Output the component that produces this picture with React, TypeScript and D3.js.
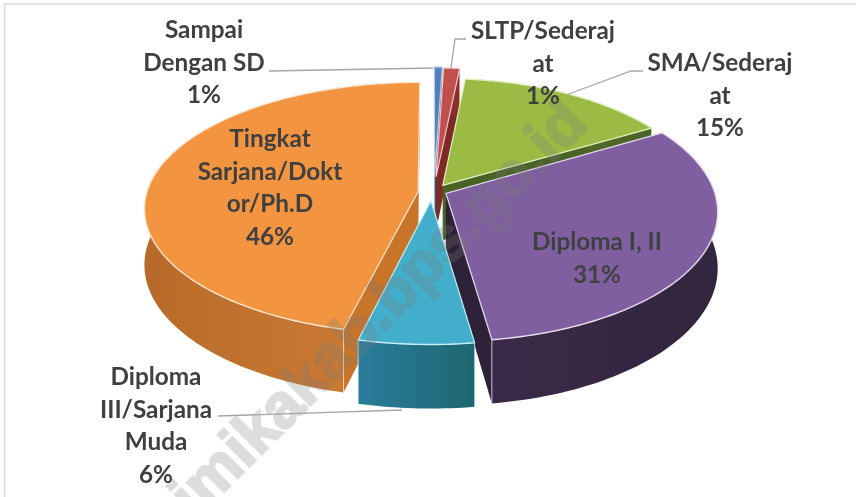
import React from "react";
import * as d3 from "d3";

const categories = ["Sampai Dengan SD", "SLTP/Sederajat", "SMA/Sederajat", "Diploma I, II", "Diploma III/Sarjana Muda", "Tingkat Sarjana/Doktor/Ph.D"];
const values = [0.55, 1.1, 14.9, 31.2, 6.0, 46.25];
const labelLines = [
  ["Sampai", "Dengan SD"],
  ["SLTP/Sederaj", "at"],
  ["SMA/Sederaj", "at"],
  ["Diploma I, II"],
  ["Diploma", "III/Sarjana", "Muda"],
  ["Tingkat", "Sarjana/Dokt", "or/Ph.D"],
];
const explosion = [0.115, 0.105, 0.075, 0.062, 0.085, 0.052];
const rxScale = [1, 1, 0.97, 1, 1, 1.01];
const ryScale = [1, 1, 0.96, 1, 0.96, 0.97];
const uNudge = [0.008, 0.008, 0, -0.004, 0, 0];
const vNudge = [0, 0, 0.027, 0, 0, 0.018];
const topColors = ["#4F81BD", "#C0504D", "#9BBB45", "#7F5FA0", "#43AECB", "#F29440"];
const wallA = ["#2f5585", "#8a2f2c", "#5f7a2a", "#3a2a47", "#2a7d9c", "#b86a2a"];
const wallB = ["#2f5585", "#8a2f2c", "#4a6326", "#33263f", "#1f6670", "#d07f35"];
const faceColors = ["#2f5585", "#7e2a28", "#4a6326", "#2e2139", "#1f6670", "#c8752c"];
const edgeColors = ["#bcd0ea", "#f5c9c7", "#e3f0c0", "#e6dbf0", "#c8eef6", "#fbe6cf"];
const labelPos = [
  { x: 204, y: 38 }, { x: 543, y: 39 }, { x: 720, y: 71 },
  { x: 597, y: 250 }, { x: 156, y: 385 }, { x: 270, y: 147 },
];
const leaders = [
  [[269, 71], [433, 68]],
  [[466, 39], [455, 39], [451, 68]],
  [[643, 71], [631, 71], [566, 95]],
  [],
  [[218, 416], [402, 410]],
  [],
];

const CX = 432, CY = 190, RX = 268, RY = 127, P = 0.135, H = 55;

function project(u: number, v: number, z: number): [number, number] {
  const s = 1 / (1 - P * v);
  return [CX + RX * u * s, CY + (RY * v + z) * s];
}

const pieGen = d3.pie<number>().sort(null).startAngle(0).endAngle(2 * Math.PI);
const arcs = pieGen(values);
const pathOf = (pts: [number, number][]) => d3.line<[number, number]>()(pts) + "Z";

function sliceGeometry(i: number) {
  const a = arcs[i];
  const mid = (a.startAngle + a.endAngle) / 2;
  const ou = explosion[i] * Math.sin(mid) + uNudge[i];
  const ov = -explosion[i] * Math.cos(mid) + vNudge[i];
  const n = Math.max(6, Math.round((a.endAngle - a.startAngle) / 0.02));
  const thetas = d3.range(n + 1).map((k) => a.startAngle + ((a.endAngle - a.startAngle) * k) / n);
  const rim = (z: number) => thetas.map((t) => project(ou + rxScale[i] * Math.sin(t), ov - ryScale[i] * Math.cos(t), z));
  const apex = (z: number) => project(ou, ov, z);
  const topRim = rim(0);
  const botRim = rim(H);
  const top = pathOf([apex(0), ...topRim]);
  const wall = pathOf([...topRim, ...botRim.slice().reverse()]);
  const faceStart = pathOf([apex(0), topRim[0], botRim[0], apex(H)]);
  const faceEnd = pathOf([apex(0), topRim[n], botRim[n], apex(H)]);
  const rimEdge = d3.line<[number, number]>()(topRim) || "";
  const xs = topRim.map((d) => d[0]);
  const cornerEdges = [
    d3.line<[number, number]>()([topRim[0], botRim[0]]) || "",
    d3.line<[number, number]>()([topRim[n], botRim[n]]) || "",
  ];
  const radials = d3.line<[number, number]>()([topRim[0], apex(0), topRim[n]]) || "";
  return { top, wall, faceStart, faceEnd, rimEdge, radials, cornerEdges, x0: d3.min(xs)!, x1: d3.max(xs)! };
}

const geoms = categories.map((_, i) => ({ i, ...sliceGeometry(i) }));
const order = [0, 1, 2, 5, 3, 4];

export default function App() {
  return (
    <svg width={856} height={497} style={{ position: "fixed", left: 0, top: 0, display: "block", background: "#fff" }}>
      <defs>
        {geoms.map((g) => (
          <linearGradient key={g.i} id={`w${g.i}`} gradientUnits="userSpaceOnUse" x1={g.x0} x2={g.x1} y1={0} y2={0}>
            <stop offset="0" stopColor={wallA[g.i]} />
            <stop offset="1" stopColor={wallB[g.i]} />
          </linearGradient>
        ))}
        <filter id="soft" x="-5%" y="-5%" width="110%" height="110%">
          <feGaussianBlur stdDeviation="0.45" />
        </filter>
        <filter id="softText" x="-5%" y="-5%" width="110%" height="110%">
          <feGaussianBlur stdDeviation="0.3" />
        </filter>
      </defs>
      <path d="M4.5 497V4H856" fill="none" stroke="#d9d9d9" strokeWidth={1.5} />
      <g filter="url(#soft)">
        {order.map((i) => {
          const g = geoms[i];
          return (
            <g key={i}>
              <path d={g.faceStart} fill={faceColors[i]} />
              <path d={g.faceEnd} fill={faceColors[i]} />
              <path d={g.wall} fill={`url(#w${i})`} />
              {g.cornerEdges.map((d, k) => (
                <path key={k} d={d} stroke={edgeColors[i]} strokeWidth={1} opacity={0.8} fill="none" />
              ))}
              <path d={g.top} fill={topColors[i]} />
              <path d={g.rimEdge} stroke={edgeColors[i]} strokeWidth={1.4} fill="none" />
              <path d={g.radials} stroke={edgeColors[i]} strokeWidth={1.2} fill="none" />
            </g>
          );
        })}
      </g>
      <g opacity={0.25}>
        <text
          transform="translate(590,126) rotate(-45)"
          textAnchor="end"
          fontFamily="'Liberation Sans', Arial, sans-serif"
          fontWeight={700}
          fontSize={62}
          fill="#7a7a7a"
          stroke="#7a7a7a"
          strokeWidth={2.5}
        >
          mimikakab.bps.go.id
        </text>
      </g>
      {leaders.map((pts, i) =>
        pts.length ? (
          <polyline key={i} points={pts.map((p) => p.join(",")).join(" ")} fill="none" stroke="#a6a6a6" strokeWidth={1.3} />
        ) : null
      )}
      <g filter="url(#softText)">
        {categories.map((_, i) => {
          const lines = [...labelLines[i], `${Math.round(values[i])}%`];
          return (
            <text key={i} fontFamily="Lato, 'Open Sans', sans-serif" fontWeight={700} fontSize={24.3} fill="#404040" textAnchor="middle">
              {lines.map((t, k) => (
                <tspan key={k} x={labelPos[i].x} y={labelPos[i].y + k * 32.5}>
                  {t}
                </tspan>
              ))}
            </text>
          );
        })}
      </g>
    </svg>
  );
}
